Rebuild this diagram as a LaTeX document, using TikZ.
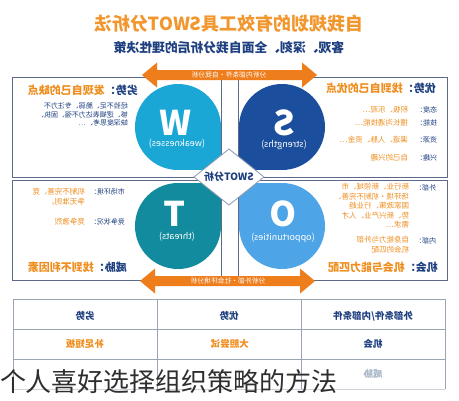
\documentclass[tikz,border=0pt]{standalone}
\usepackage{fontspec}
\usepackage{graphicx}
\setmainfont{Noto Sans CJK SC}
\definecolor{ttlor}{HTML}{F2962E}
\definecolor{hdor}{HTML}{EF8E1E}
\definecolor{dkblue}{HTML}{1E3F80}
\definecolor{arror}{HTML}{EE7D1C}
\definecolor{boxln}{HTML}{5C6A88}
\definecolor{cW}{HTML}{1BA7D6}
\definecolor{cS}{HTML}{1B4E9C}
\definecolor{cT}{HTML}{118B9D}
\definecolor{cO}{HTML}{4DA4E6}
\definecolor{tbl}{HTML}{9AA4B5}
\definecolor{faint}{HTML}{A9B6C8}
\definecolor{dmd}{HTML}{8C9AB2}
\definecolor{ovl}{HTML}{2E2E2E}
\newcommand{\mirr}[1]{\scalebox{-1}[1]{#1}}
\newcommand{\fs}[1]{\fontsize{#1}{#1}\selectfont}
\newcommand{\dblarr}[3]{\fill[arror] (#1,#3) -- ({#1+15},{#3-12.5}) -- ({#1+15},{#3-5}) -- ({#2-15},{#3-5}) -- ({#2-15},{#3-12.5}) -- (#2,#3) -- ({#2-15},{#3+12.5}) -- ({#2-15},{#3+5}) -- ({#1+15},{#3+5}) -- ({#1+15},{#3+12.5}) -- cycle;}
\begin{document}
\begin{tikzpicture}[x=1pt,y=-1pt,
  every node/.style={inner sep=0pt,outer sep=0pt},
  ttl/.style={font=\fs{18}\bfseries,text=ttlor},
  sub/.style={font=\fs{12.8}\bfseries,text=dkblue},
  hdr/.style={font=\fs{11}\bfseries},
  lbl/.style={font=\fs{7},text=dkblue},
  val/.style={font=\fs{7.5},text=hdor},
  body/.style={font=\fs{7},text=dkblue},
  big/.style={font=\fs{34}\bfseries,text=white},
  sml/.style={font=\fs{9},text=white},
  tbh/.style={font=\fs{9.5}\bfseries,text=dkblue},
  tbo/.style={font=\fs{9.5}\bfseries,text=hdor},
  arl/.style={font=\fs{6.8},text=white},
  box/.style={draw=boxln,line width=0.8pt}]
\useasboundingbox (0,0) rectangle (459,400);
\fill[white] (0,0) rectangle (459,400);
% titles
\node[ttl] (title) at (229,24) {\mirr{自我规划的有效工具SWOT分析法}};
\node[sub] (subtitle) at (229,48) {\mirr{客观、深刻、全面自我分析后的理性决策}};
% boxes
\draw[box] (12,77) rectangle (221,177);
\draw[box] (238,77) rectangle (447,177);
\draw[box] (12,180) rectangle (221,280);
\draw[box] (238,180) rectangle (447,280);
% quadrant shapes
\fill[cW] (178,127) circle[radius=43]; \fill[cW] (178,127) rectangle (221,170);
\fill[cS] (282,127) circle[radius=43]; \fill[cS] (239,127) rectangle (282,170);
\fill[cT] (178,226) circle[radius=43]; \fill[cT] (178,183) rectangle (221,226);
\fill[cO] (282,226) circle[radius=43]; \fill[cO] (239,183) rectangle (282,226);
% diamond
\filldraw[fill=white,draw=dmd,line width=0.8pt] (229,149) -- (264,177) -- (229,205) -- (194,177) -- cycle;
\node[font=\fs{10}\bfseries,text=dkblue] (swot) at (229,177) {\mirr{SWOT分析}};
% letters
\node[big] (Wl) at (176,122.5) {\mirr{W}};
\node[sml] (Ws) at (177,144) {\mirr{(weaknesses)}};
\node[big] (Sl) at (285,122.5) {\mirr{S}};
\node[sml] (Ss) at (284,145) {\mirr{(strengths)}};
\node[big] (Tl) at (175,213.5) {\mirr{T}};
\node[sml] (Ts) at (177,237) {\mirr{(threats)}};
\node[big] (Ol) at (283,213.5) {\mirr{O}};
\node[sml] (Os) at (283,238) {\mirr{(opportunities)}};
% arrows
\dblarr{142}{317}{75}
\dblarr{140}{315}{281}
\node[arl] (toplbl) at (229,75) {\mirr{分析内部条件·自我分析}};
\node[arl] (botlbl) at (228,281) {\mirr{分析外部·社会环境分析}};
% W box text
\node[hdr] (Wh) at (83,90) {\mirr{\textcolor{dkblue}{劣势：}\textcolor{hdor}{发现自己的缺点}}};
\node[body,anchor=east] (Wb1) at (128,106) {\mirr{经验不足、脆弱、专注力不}};
\node[body,anchor=east] (Wb2) at (128,114.5) {\mirr{够、逻辑表达力不强、固执、}};
\node[body,anchor=east] (Wb3) at (128,123) {\mirr{缺深度思考、…}};
% S box text
\node[hdr] (Sh) at (381,88) {\mirr{\textcolor{dkblue}{优势：}\textcolor{hdor}{找到自己的优点}}};
\node[lbl,anchor=east] (Sa) at (437,110) {\mirr{态度：}};
\node[val,anchor=east] (Sav) at (408,110) {\mirr{积极、乐观…}};
\node[lbl,anchor=east] (Sb) at (437,123) {\mirr{技能：}};
\node[val,anchor=east] (Sbv) at (408,123) {\mirr{擅长沟通技能…}};
\node[lbl,anchor=east] (Sc) at (437,140) {\mirr{资源：}};
\node[val,anchor=east] (Scv) at (408,140) {\mirr{渠道、人脉、资金…}};
\node[lbl,anchor=east] (Sd) at (437,158) {\mirr{兴趣：}};
\node[val,anchor=east] (Sdv) at (408,158) {\mirr{自己的兴趣}};
% T box text
\node[lbl,anchor=east] (Ta) at (125,192) {\mirr{市场环境：}};
\node[val,anchor=east] (Tav1) at (85,192) {\mirr{机制不完善、竞}};
\node[val,anchor=east] (Tav2) at (85,202) {\mirr{争无准则。}};
\node[lbl,anchor=east] (Tb) at (125,222) {\mirr{竞争状况：}};
\node[val,anchor=east] (Tbv) at (85,222) {\mirr{竞争激烈}};
\node[hdr] (Th) at (77.5,267) {\mirr{\textcolor{dkblue}{威胁：}\textcolor{hdor}{找到不利因素}}};
% O box text
\node[lbl,anchor=east] (Oa) at (436,188) {\mirr{外部：}};
\node[val,anchor=east] (Oav1) at (409,187) {\mirr{新行业、新领域、市}};
\node[val,anchor=east] (Oav2) at (409,196.5) {\mirr{场环境·机制不完善、}};
\node[val,anchor=east] (Oav3) at (409,206) {\mirr{国家政策、行业趋}};
\node[val,anchor=east] (Oav4) at (409,215.5) {\mirr{势、新兴产业、人才}};
\node[val,anchor=east] (Oav5) at (409,225) {\mirr{需求…}};
\node[lbl,anchor=east] (Ob) at (436,241) {\mirr{内部：}};
\node[val,anchor=east] (Obv1) at (409,240) {\mirr{自身能力与外部}};
\node[val,anchor=east] (Obv2) at (409,250) {\mirr{机会的匹配}};
\node[hdr] (Oh) at (383,267) {\mirr{\textcolor{dkblue}{机会：}\textcolor{hdor}{机会与能力匹配}}};
% table
\draw[tbl,line width=0.7pt] (13,389) -- (13,299) -- (445,299) -- (445,389);
\draw[tbl,line width=0.7pt] (13,329) -- (445,329);
\draw[tbl,line width=0.7pt] (13,359) -- (445,359);
\draw[tbl!50,line width=0.7pt] (13,389) -- (445,389);
\draw[tbl,line width=0.7pt] (157,299) -- (157,389);
\draw[tbl,line width=0.7pt] (301,299) -- (301,389);
\node[tbh] (t11) at (85,316) {\mirr{劣势}};
\node[tbh] (t12) at (229,316) {\mirr{优势}};
\node[tbh] (t13) at (373,316) {\mirr{外部条件/内部条件}};
\node[tbo] (t21) at (85,344) {\mirr{补足短板}};
\node[tbo] (t22) at (230,344) {\mirr{大胆尝试}};
\node[tbh] (t23) at (373,344) {\mirr{机会}};
\node[tbh,text=faint] (t33) at (373,374) {\mirr{威胁}};
% overlay caption
\node[font=\fs{26},text=ovl,anchor=base west] (cap) at (0,391) {个人喜好选择组织策略的方法};
\end{tikzpicture}
\end{document}
